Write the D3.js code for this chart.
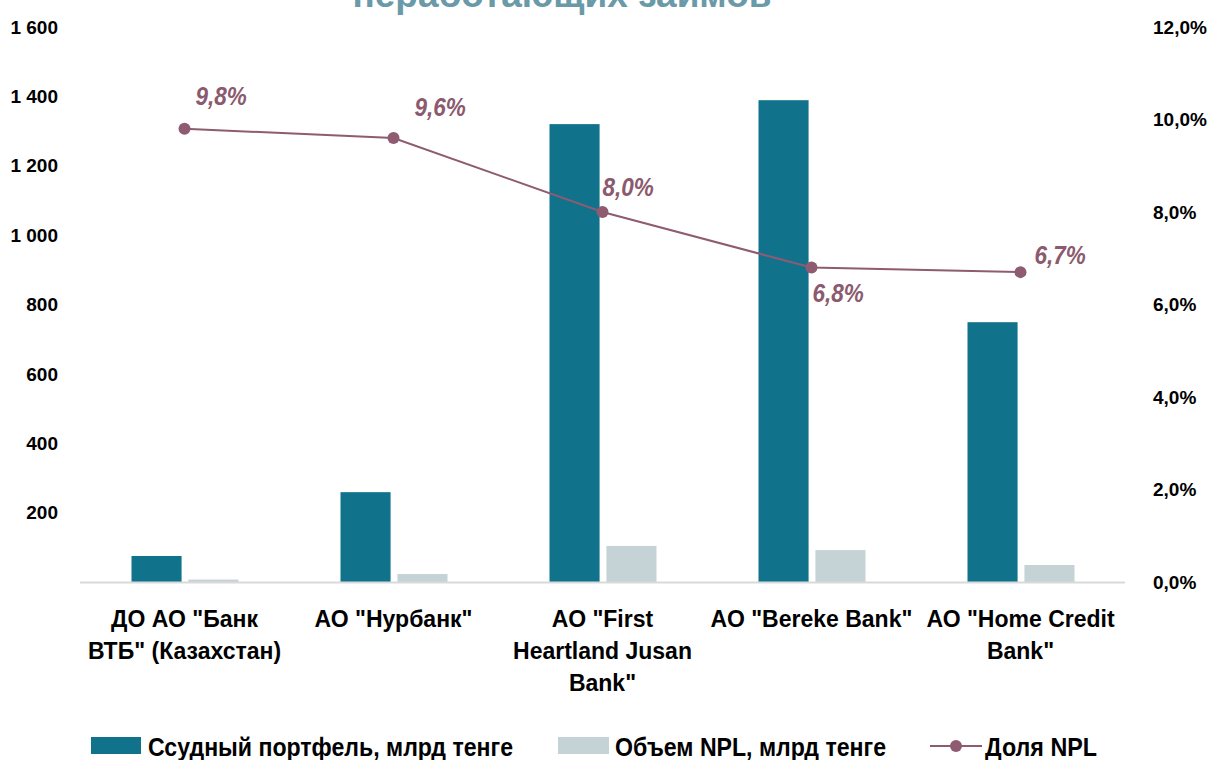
<!DOCTYPE html>
<html>
<head>
<meta charset="utf-8">
<script src="https://cdn.jsdelivr.net/npm/d3@7"></script>
<style>
  body { margin: 0; background: #fff; }
  svg { font-family: "Liberation Sans", Arial, sans-serif; }
</style>
</head>
<body>
<svg id="chart" width="1209" height="760"></svg>
<script>
// categories and values
const banks = [
  ["ДО АО \"Банк", "ВТБ\" (Казахстан)"],
  ["АО \"Нурбанк\""],
  ["АО \"First", "Heartland Jusan", "Bank\""],
  ["АО \"Bereke Bank\""],
  ["АО \"Home Credit", "Bank\""]
];
const loans = [75, 259, 1320, 1389, 749];
const npl = [7, 23, 104, 92, 49];
const nplShare = [9.8, 9.6, 8.0, 6.8, 6.7];
const leftTicks = [200, 400, 600, 800, 1000, 1200, 1400, 1600];
const rightTicks = [0, 2, 4, 6, 8, 10, 12];
const seriesNames = ["Ссудный портфель, млрд тенге", "Объем NPL, млрд тенге", "Доля NPL"];

const teal = "#11728c";
const grey = "#c5d3d7";
const plum = "#8e5b71";

const svg = d3.select("#chart");

const x0 = 80, x1 = 1125, yTop = 27, yBase = 582;

const xScale = d3.scaleBand()
  .domain(d3.range(banks.length))
  .range([x0, x1]);

const xInner = d3.scaleBand()
  .domain(["loans", "npl"])
  .range([0, 107])
  .paddingInner(0.12);

const yLeft = d3.scaleLinear().domain([0, 1600]).range([yBase, yTop]);
const yRight = d3.scaleLinear().domain([0, 12]).range([yBase, yTop]);

// title (cut at the top, as in the source)
svg.append("text")
  .attr("x", 562)
  .attr("y", 7)
  .attr("text-anchor", "middle")
  .attr("font-size", 37)
  .attr("font-weight", "bold")
  .attr("fill", "#6a9aa8")
  .text("неработающих займов");

// left axis
svg.append("g")
  .selectAll("text")
  .data(leftTicks)
  .enter()
  .append("text")
  .attr("x", 58)
  .attr("y", d => yLeft(d))
  .attr("dy", "0.35em")
  .attr("text-anchor", "end")
  .attr("font-size", 19)
  .attr("font-weight", "bold")
  .text(d => d3.format(",")(d).replace(",", " "));

// right axis
svg.append("g")
  .selectAll("text")
  .data(rightTicks)
  .enter()
  .append("text")
  .attr("x", 1153)
  .attr("y", d => yRight(d))
  .attr("dy", "0.35em")
  .attr("font-size", 19)
  .attr("font-weight", "bold")
  .text(d => d.toFixed(1).replace(".", ",") + "%");

// bars
const groups = svg.append("g")
  .selectAll("g")
  .data(banks.map((b, i) => i))
  .enter()
  .append("g")
  .attr("transform", i => `translate(${xScale(i) + xScale.bandwidth() / 2 - 53},0)`);

groups.append("rect")
  .attr("x", xInner("loans"))
  .attr("width", xInner.bandwidth())
  .attr("y", i => yLeft(loans[i]))
  .attr("height", i => yBase - yLeft(loans[i]))
  .attr("fill", teal);

groups.append("rect")
  .attr("x", xInner("npl"))
  .attr("width", xInner.bandwidth())
  .attr("y", i => yLeft(npl[i]))
  .attr("height", i => yBase - yLeft(npl[i]))
  .attr("fill", grey);

// baseline
svg.append("line")
  .attr("x1", x0).attr("x2", x1)
  .attr("y1", yBase + 0.5).attr("y2", yBase + 0.5)
  .attr("stroke", "#d9d9d9")
  .attr("stroke-width", 2);

// npl share line
const cx = i => xScale(i) + xScale.bandwidth() / 2;
const line = d3.line()
  .x((d, i) => cx(i))
  .y(d => yRight(d));

svg.append("path")
  .datum(nplShare)
  .attr("d", line)
  .attr("fill", "none")
  .attr("stroke", plum)
  .attr("stroke-width", 2);

svg.append("g")
  .selectAll("circle")
  .data(nplShare)
  .enter()
  .append("circle")
  .attr("cx", (d, i) => cx(i))
  .attr("cy", d => yRight(d))
  .attr("r", 6)
  .attr("fill", plum);

// data labels
const labelOffsets = [[11, -24], [21, -22], [0, -16], [1, 34], [14, -8]];
svg.append("g")
  .selectAll("text")
  .data(nplShare)
  .enter()
  .append("text")
  .attr("transform", (d, i) =>
    `translate(${cx(i) + labelOffsets[i][0]},${yRight(d) + labelOffsets[i][1]}) scale(0.9,1)`)
  .attr("font-size", 25)
  .attr("font-weight", "bold")
  .attr("font-style", "italic")
  .attr("fill", "#8b5a6e")
  .text(d => d.toFixed(1).replace(".", ",") + "%");

// category labels
const cat = svg.append("g")
  .selectAll("text")
  .data(banks)
  .enter()
  .append("text")
  .attr("x", (d, i) => cx(i))
  .attr("y", 627)
  .attr("text-anchor", "middle")
  .attr("font-size", 23)
  .attr("font-weight", "bold");

cat.selectAll("tspan")
  .data(d => d)
  .enter()
  .append("tspan")
  .attr("x", function() { return d3.select(this.parentNode).attr("x"); })
  .attr("dy", (d, j) => j === 0 ? 0 : 32)
  .text(d => d);

// legend
const legend = svg.append("g")
  .attr("font-size", 25)
  .attr("font-weight", "bold");

legend.append("rect")
  .attr("x", 91).attr("y", 737).attr("width", 50).attr("height", 17)
  .attr("fill", teal);
legend.append("text")
  .attr("x", 148).attr("y", 756)
  .attr("textLength", 365).attr("lengthAdjust", "spacingAndGlyphs")
  .text(seriesNames[0]);

legend.append("rect")
  .attr("x", 558).attr("y", 737).attr("width", 51).attr("height", 17)
  .attr("fill", grey);
legend.append("text")
  .attr("x", 615).attr("y", 756)
  .attr("textLength", 271).attr("lengthAdjust", "spacingAndGlyphs")
  .text(seriesNames[1]);

legend.append("line")
  .attr("x1", 930).attr("x2", 982)
  .attr("y1", 746).attr("y2", 746)
  .attr("stroke", plum).attr("stroke-width", 2);
legend.append("circle")
  .attr("cx", 956).attr("cy", 746).attr("r", 6)
  .attr("fill", plum);
legend.append("text")
  .attr("x", 985).attr("y", 756)
  .attr("textLength", 112).attr("lengthAdjust", "spacingAndGlyphs")
  .text(seriesNames[2]);
</script>
</body>
</html>
